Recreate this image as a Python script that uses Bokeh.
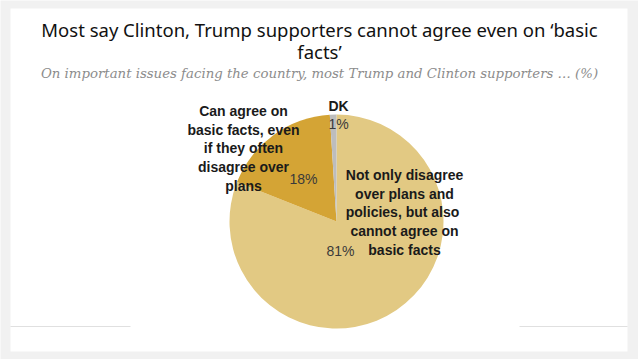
import numpy as np
from bokeh.plotting import figure
from bokeh.models import Range1d, Label, ColumnDataSource
from bokeh.embed import file_html
from bokeh.resources import INLINE

# ---- data ----
categories = [
    "Not only disagree\nover plans and\npolicies,  but also\ncannot agree on\nbasic facts",
    "Can agree on\nbasic facts, even\nif they often\ndisagree over\nplans",
    "DK",
]
values = [81, 18, 1]
pct_labels = ["81%", "18%", "1%"]
colors = ["#E2C983", "#D4A435", "#BDBDBD"]
title_lines = ["Most say Clinton, Trump supporters cannot agree even on \u2018basic", "facts\u2019"]
subtitle = "On important issues facing the country, most Trump and Clinton supporters \u2026 (%)"

W, H = 638, 359
p = figure(width=W, height=H, x_range=Range1d(0, W), y_range=Range1d(0, H),
           output_backend="svg", toolbar_location=None, min_border=0)
p.axis.visible = False
p.grid.visible = False
p.outline_line_color = None
p.background_fill_color = "#f1f1f1"
p.border_fill_color = "#f1f1f1"

def Y(py):
    return H - py

# white slide panel
p.quad(left=10, right=627, bottom=Y(351), top=Y(8), fill_color="white", line_color=None)

cx, cy, r = 336, Y(221), 107
frac = np.array(values, dtype=float) / sum(values)
ends = np.cumsum(frac) * 2 * np.pi
starts = ends - frac * 2 * np.pi
src = ColumnDataSource(dict(start=np.pi / 2 - starts, end=np.pi / 2 - ends, color=colors))
p.wedge(x=cx, y=cy, radius=r, start_angle="start", end_angle="end", direction="clock",
        fill_color="color", line_color=None, source=src)

# bottom decorative lines
p.line([10, 130], [Y(326), Y(326)], line_color="#e0e0e0", line_width=1)
p.line([519, 627], [Y(326), Y(326)], line_color="#e0e0e0", line_width=1)

# title
p.add_layout(Label(x=319, y=Y(29), text=title_lines[0], text_align="center", text_baseline="middle",
                   text_font="Noto Sans", text_font_size="18.5px", text_color="#111111"))
p.add_layout(Label(x=319, y=Y(51), text=title_lines[1], text_align="center", text_baseline="middle",
                   text_font="Noto Sans", text_font_size="18.5px", text_color="#111111"))
p.add_layout(Label(x=319, y=Y(73), text=subtitle, text_align="center", text_baseline="middle",
                   text_font="DejaVu Serif", text_font_style="italic", text_font_size="13.3px",
                   text_color="#8c8c8c"))

lab_font = "Liberation Sans"
# category labels
cat_pos = [(404, 212), (243, 148), (338, 105)]
for txt, (x, y) in zip(categories, cat_pos):
    p.add_layout(Label(x=x, y=Y(y), text=txt, text_align="center", text_baseline="middle",
                       text_font=lab_font, text_font_style="bold", text_font_size="14px",
                       text_color="#1a1a1a", text_line_height=1.17))

pct_pos = [(340, 250), (303, 178), (338, 123)]
for txt, (x, y) in zip(pct_labels, pct_pos):
    p.add_layout(Label(x=x, y=Y(y), text=txt, text_align="center", text_baseline="middle",
                       text_font="Liberation Sans", text_font_size="14px", text_color="#3a3a3a"))

open("out.html", "w").write(file_html(p, INLINE))
